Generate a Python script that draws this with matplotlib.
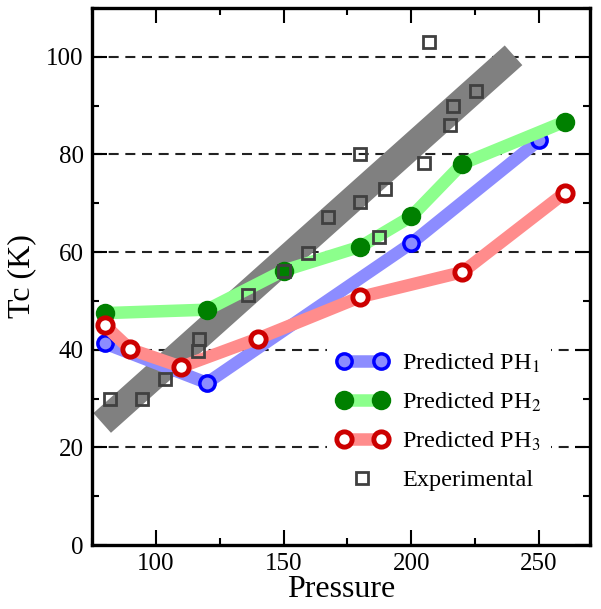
import matplotlib
matplotlib.use("Agg")
import matplotlib.pyplot as plt
from matplotlib.ticker import MultipleLocator
from matplotlib.legend_handler import HandlerLine2D

plt.rcParams['font.family'] = ['Liberation Serif', 'DejaVu Serif']
plt.rcParams['mathtext.fontset'] = 'stix'

# predicted Tc
p_ph1 = [80, 120, 200, 250]
tc_ph1 = [41.3, 33.2, 61.8, 82.9]
p_ph2 = [80, 120, 150, 180, 200, 220, 260]
tc_ph2 = [47.5, 48.2, 56.2, 61.1, 67.3, 78.1, 86.7]
p_ph3 = [80, 90, 110, 140, 180, 220, 260]
tc_ph3 = [45.0, 40.1, 36.5, 42.3, 50.8, 55.9, 72.1]

# experiment
p_exp = [82, 94.5, 103.5, 116.5, 117, 136, 150, 159.5, 167.5, 180, 180,
         187.5, 189.5, 205, 207, 215, 216.5, 225.5]
tc_exp = [30, 30, 34, 39.8, 42.1, 51.2, 56.2, 59.8, 67.1, 70.3, 80,
          63.1, 73, 78.3, 103, 86, 90, 93]

# trend band of experiment
band_p = [79, 240]
band_tc = [25, 100.3]

grid_y = [20, 40, 60, 80, 100]

fig = plt.figure(figsize=(6.01, 6.09), dpi=100)
ax = fig.add_axes([0.153, 0.105, 0.829, 0.882])

for g in grid_y:
    ax.axhline(g, color='#222222', lw=1.5, dashes=(4.8, 3.2), zorder=0)

ax.plot(band_p, band_tc, color='#808080', lw=19, solid_capstyle='butt', zorder=1)

h1, = ax.plot(p_ph1, tc_ph1, '-o', color='#8c8cff', lw=9, ms=11, mfc='#8c8cff',
              mec='#0000ff', mew=2.5, zorder=2, label='Predicted PH$_1$')
h2, = ax.plot(p_ph2, tc_ph2, '-o', color='#8cff8c', lw=9, ms=12, mfc='#008000',
              mec='#008000', mew=2, zorder=2, label='Predicted PH$_2$')
h3, = ax.plot(p_ph3, tc_ph3, '-o', color='#ff8c8c', lw=9, ms=11, mfc='white',
              mec='#cc0000', mew=3.5, zorder=2, label='Predicted PH$_3$')
he, = ax.plot(p_exp, tc_exp, 's', ms=9, mfc='none', mec='#404040', mew=2,
              zorder=3, label='Experimental')

ax.set_xlim(75, 270)
ax.set_ylim(0, 110)
ax.xaxis.set_major_locator(MultipleLocator(50))
ax.xaxis.set_minor_locator(MultipleLocator(25))
ax.yaxis.set_major_locator(MultipleLocator(20))
ax.yaxis.set_minor_locator(MultipleLocator(10))
ax.tick_params(which='both', direction='in', top=True, right=True, width=1.5,
               labelsize=18)
ax.tick_params(which='major', length=11, pad=6)
ax.tick_params(which='minor', length=5)
for s in ax.spines.values():
    s.set_linewidth(2.4)

ax.set_xlabel('Pressure', fontsize=23, labelpad=0)
ax.set_ylabel('Tc (K)', fontsize=23, labelpad=7)

leg = ax.legend(handles=[h1, h2, h3, he], loc='upper left',
                bbox_to_anchor=(0.472, 0.378), borderaxespad=0, numpoints=2,
                fontsize=17.5, handlelength=2.1, handletextpad=0.58,
                labelspacing=0.65, frameon=True, fancybox=False,
                handler_map={he: HandlerLine2D(numpoints=1)})
leg.get_frame().set_edgecolor('none')
leg.get_frame().set_facecolor('white')
leg.get_frame().set_alpha(1)

fig.savefig('out.png', dpi=100)
